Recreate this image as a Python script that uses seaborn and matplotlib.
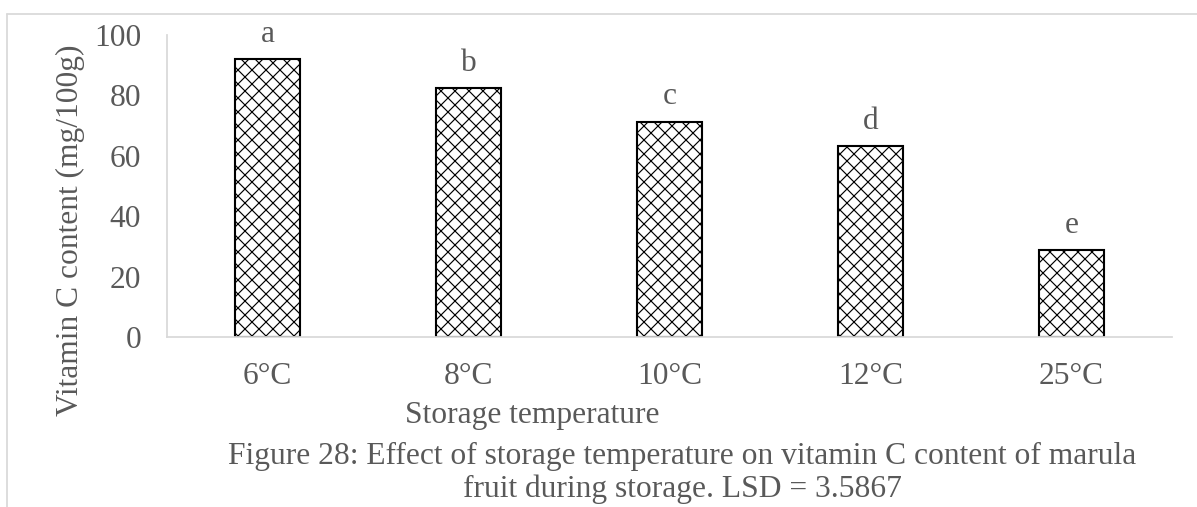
import pandas as pd
import seaborn as sns
import matplotlib.pyplot as plt
from matplotlib.lines import Line2D

# Data
temps = ['6°C', '8°C', '10°C', '12°C', '25°C']
vitamin_c = [92.0, 82.4, 71.2, 63.2, 28.8]
letters = ['a', 'b', 'c', 'd', 'e']
yticks = [0, 20, 40, 60, 80, 100]

df = pd.DataFrame({'temp': temps, 'vitc': vitamin_c})

sns.set_style('white')
plt.rcParams['font.family'] = ['Liberation Serif', 'DejaVu Serif']
plt.rcParams['hatch.linewidth'] = 1.0
plt.rcParams['hatch.color'] = 'black'

grey = '#595959'
fs = 27
dpi = 84
fig = plt.figure(figsize=(1197 / dpi, 507 / dpi), dpi=dpi)
ax = fig.add_axes([167 / 1197, 1 - 337 / 507, (1172 - 167) / 1197, (337 - 35) / 507])

sns.barplot(data=df, x='temp', y='vitc', color='white', edgecolor='black',
            linewidth=1.8, width=0.32, ax=ax)
for p in ax.patches:
    p.set_hatch('xx')

# significance letters above the bars
for i, (v, lab) in enumerate(zip(vitamin_c, letters)):
    ax.annotate(lab, (i, v), xytext=(0, 9), textcoords='offset points',
                ha='center', va='bottom', fontsize=fs, color=grey,
                annotation_clip=False)

ax.set_ylim(0, 100)
ax.set_yticks(yticks)
ax.set_xlim(-0.5, len(temps) - 0.5)
ax.set_xlabel('')
ax.set_ylabel('')
ax.tick_params(axis='both', length=0, labelsize=fs, colors=grey)
ax.tick_params(axis='x', pad=21)
ax.tick_params(axis='y', pad=22)
for s in ['top', 'right']:
    ax.spines[s].set_visible(False)
for s in ['left', 'bottom']:
    ax.spines[s].set_color('#d9d9d9')
    ax.spines[s].set_linewidth(1.5)

fig.text(70 / 1197, 1 - 230 / 507, 'Vitamin C content (mg/100g)', rotation=90,
         ha='center', va='center', fontsize=fs, color=grey)
fig.text(532 / 1197, 1 - 415 / 507, 'Storage temperature',
         ha='center', va='center', fontsize=fs, color=grey)
fig.text(682 / 1197, 1 - 473 / 507,
         'Figure 28: Effect of storage temperature on vitamin C content of marula\n'
         'fruit during storage. LSD = 3.5867',
         ha='center', va='center', multialignment='center', fontsize=fs,
         color=grey, linespacing=1.15)

# outer chart frame (left and top edges visible)
fx = 7 / 1197
fy = 1 - 14 / 507
fig.add_artist(Line2D([fx, fx], [0, fy], transform=fig.transFigure, color='#d9d9d9', lw=1.5))
fig.add_artist(Line2D([fx, 1], [fy, fy], transform=fig.transFigure, color='#d9d9d9', lw=1.5))

fig.savefig('out.png', dpi=dpi)
